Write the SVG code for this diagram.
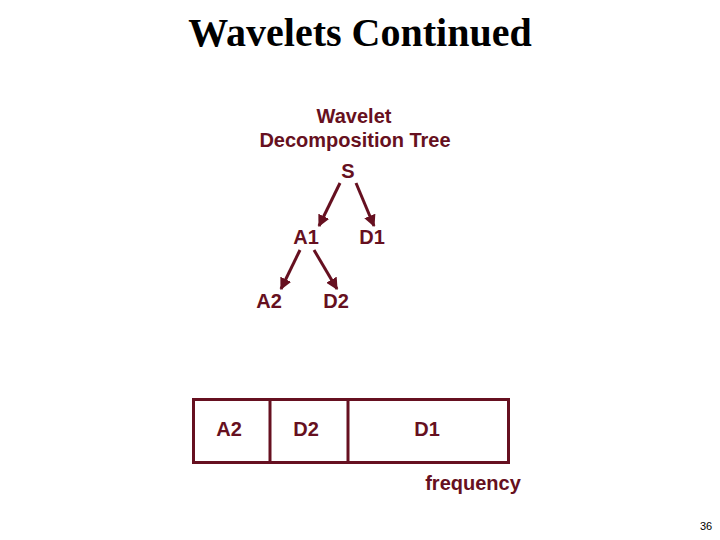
<svg xmlns="http://www.w3.org/2000/svg" width="720" height="540" viewBox="0 0 720 540">
<style>
.t{font-family:"Liberation Sans",Arial,sans-serif;font-weight:bold;font-size:20px;fill:#661020;text-anchor:middle}
.ttl{font-family:"Liberation Serif","Times New Roman",serif;font-weight:bold;font-size:40px;fill:#000;text-anchor:middle}
.c{stroke:#661020;stroke-width:3;fill:none}
.box{stroke:#661020;stroke-width:3;fill:none}
</style>
<defs>
<marker id="ah" viewBox="0 0 10 10" refX="9" refY="5" markerWidth="4" markerHeight="4" orient="auto" markerUnits="strokeWidth">
<path d="M0,0 L10,5 L0,10 z" fill="#661020"/>
</marker>
</defs>
<rect width="720" height="540" fill="#fff"/>
<text class="ttl" x="360" y="46">Wavelets Continued</text>
<g id="caption">
<text class="t" x="354" y="123">Wavelet</text>
<text class="t" x="355" y="147">Decomposition Tree</text>
</g>
<g id="connectors">
<line class="c" x1="340" y1="183" x2="319" y2="226" marker-end="url(#ah)"/>
<line class="c" x1="356" y1="183" x2="374" y2="226" marker-end="url(#ah)"/>
<line class="c" x1="300" y1="250" x2="281" y2="289" marker-end="url(#ah)"/>
<line class="c" x1="314" y1="250" x2="337" y2="289" marker-end="url(#ah)"/>
</g>
<g id="S"><text class="t" x="348" y="178">S</text></g>
<g id="A1"><text class="t" x="306" y="244">A1</text></g>
<g id="D1"><text class="t" x="372" y="244">D1</text></g>
<g id="A2"><text class="t" x="269" y="308">A2</text></g>
<g id="D2"><text class="t" x="336" y="308">D2</text></g>
<g id="bar">
<rect class="box" x="193.5" y="399.5" width="315" height="63"/>
<line class="box" x1="270" y1="399" x2="270" y2="463"/>
<line class="box" x1="348" y1="399" x2="348" y2="463"/>
<text class="t" x="229" y="436">A2</text>
<text class="t" x="306" y="436">D2</text>
<text class="t" x="427" y="436">D1</text>
</g>
<text class="t" x="473" y="490">frequency</text>
<text x="706" y="530" font-family="Liberation Sans,Arial,sans-serif" font-size="11" fill="#000" text-anchor="middle">36</text>
</svg>
